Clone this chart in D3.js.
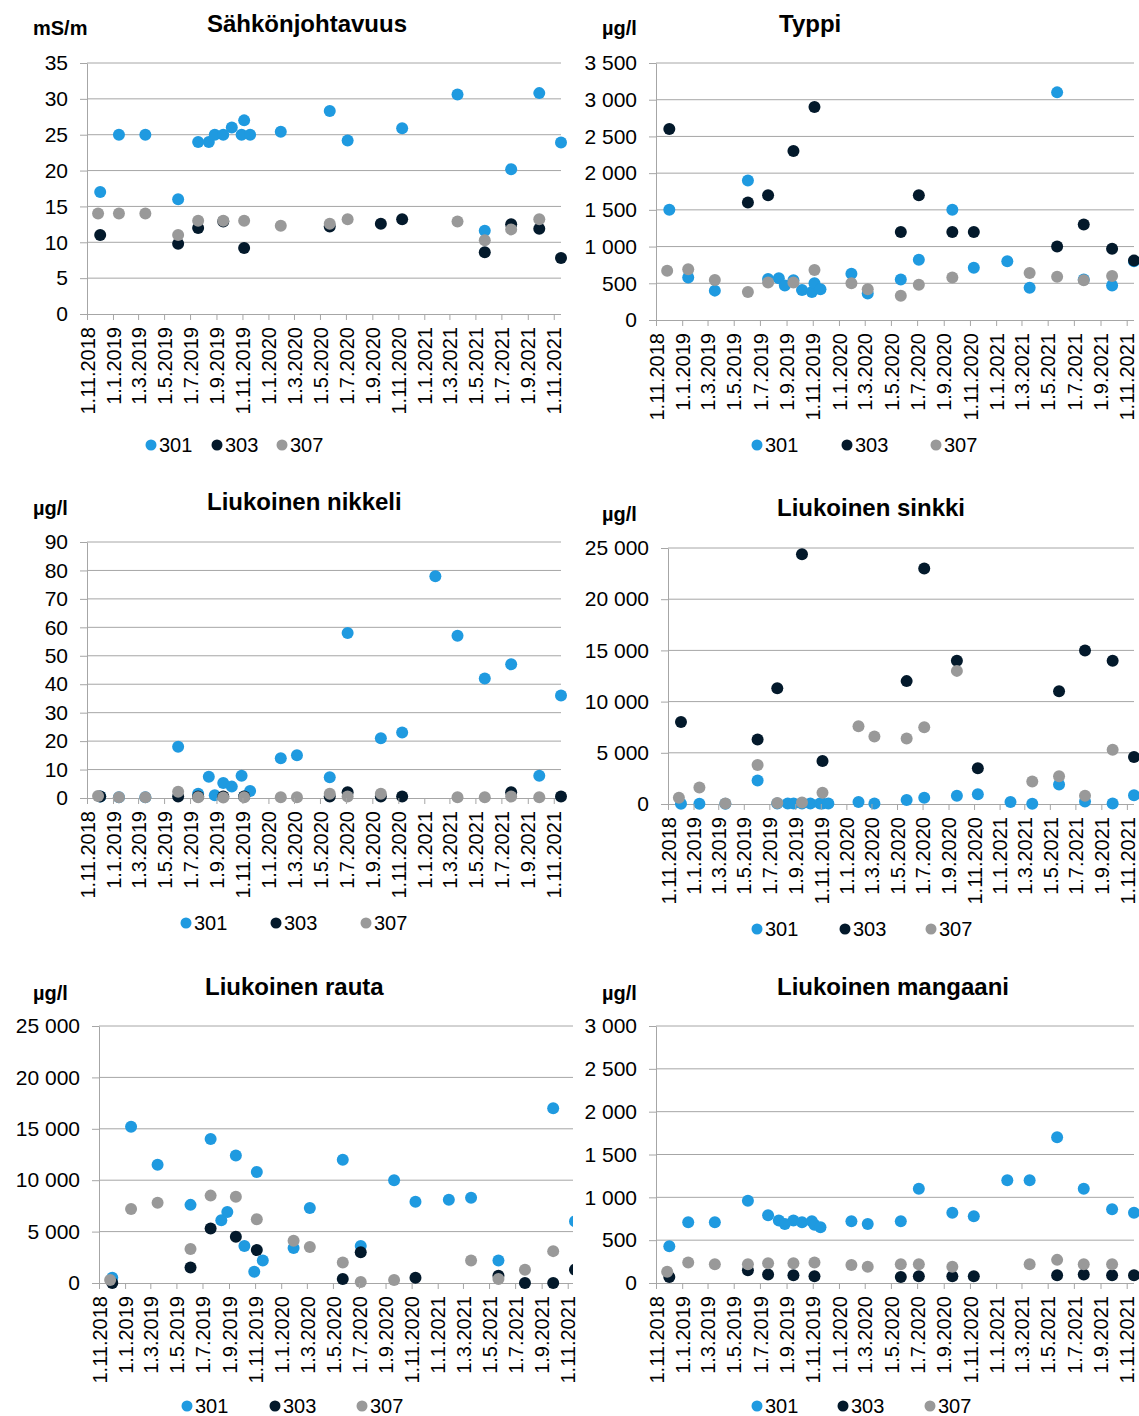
<!DOCTYPE html>
<html lang="fi">
<head>
<meta charset="UTF-8">
<title>Vedenlaatu 301, 303, 307</title>
<style>
    body { margin: 0; background: #fff; }
    svg { display: block; font-family: Arial, "Liberation Sans", sans-serif; }
    .grid line { stroke: #a6a6a6; stroke-width: 1; }
    .axis path, .axis line { stroke: #a6a6a6; }
    .axis text { fill: #000; }
</style>
</head>
<body>
<svg id="chart"></svg>
<script src="https://d3js.org/d3.v7.min.js"></script>
<script>
// sampling dates (union of all stations)
const sampleDates = ["2018-11-27", "2018-12-02", "2019-01-15", "2019-03-18", "2019-06-03",
    "2019-07-20", "2019-08-14", "2019-08-28", "2019-09-17", "2019-10-07", "2019-10-30",
    "2019-11-05", "2019-11-19", "2020-01-30", "2020-03-08", "2020-05-24", "2020-07-05",
    "2020-09-21", "2020-11-10", "2021-01-27", "2021-03-20", "2021-05-23", "2021-07-24",
    "2021-09-28", "2021-11-18"];

// x tick labels, every second month
const tickDates = ["2018-11-01", "2019-01-01", "2019-03-01", "2019-05-01", "2019-07-01",
    "2019-09-01", "2019-11-01", "2020-01-01", "2020-03-01", "2020-05-01", "2020-07-01",
    "2020-09-01", "2020-11-01", "2021-01-01", "2021-03-01", "2021-05-01", "2021-07-01",
    "2021-09-01", "2021-11-01"];

const stations = ["301", "303", "307"];

// Sähkönjohtavuus, mS/m
const cond301 = [null, 17, 25, 25, 16, 24, 24, 25, 25, 26, 25, 27, 25, 25.4, null, 28.3, 24.2, null, 25.9, null, 30.6, 11.6, 20.2, 30.8, 23.9];
const cond303 = [null, 11, null, null, 9.8, 12, null, null, 12.9, null, null, 9.2, null, null, null, 12.2, null, 12.6, 13.2, null, null, 8.6, 12.5, 11.9, 7.8];
const cond307 = [14, null, 14, 14, 11, 13, null, null, 13, null, null, 13, null, 12.3, null, 12.6, 13.2, null, null, null, 12.9, 10.3, 11.8, 13.2, null];

// Typpi, µg/l
const typ301 = [null, 1500, 580, 400, 1900, 560, 570, 470, 540, 410, 380, 500, 420, 630, 360, 550, 820, 1500, 710, 800, 440, 3100, 550, 470, 800];
const typ303 = [null, 2600, null, null, 1600, 1700, null, null, 2300, null, null, 2900, null, null, null, 1200, 1700, 1200, 1200, null, null, 1000, 1300, 970, 810];
const typ307 = [670, null, 690, 545, 380, 510, null, null, 510, null, null, 680, null, 500, 420, 330, 480, 580, null, null, 640, 590, 540, 600, null];

// Liukoinen nikkeli, µg/l
const ni301 = [null, 0.5, 0.3, 0.3, 18, 1.5, 7.5, 1, 5.3, 4, 7.8, 0.5, 2.5, 14, 15, 7.3, 58, 21, 23, 78, 57, 42, 47, 7.8, 36];
const ni303 = [null, 0.5, null, null, 0.5, 0.5, null, null, 0.5, null, null, 0.5, null, null, null, 0.5, 2, 0.5, 0.5, null, null, null, 2, null, 0.5];
const ni307 = [0.7, null, 0.3, 0.3, 2.2, 0.3, null, null, 0.2, null, null, 0.3, null, 0.3, 0.3, 1.5, 0.5, 1.5, null, null, 0.3, 0.3, 0.5, 0.3, null];

// Liukoinen sinkki, µg/l
const zn301 = [null, 20, 20, 20, 2300, 50, 50, 50, 50, 50, 50, 50, 50, 200, 50, 400, 600, 800, 950, 200, 30, 1900, 250, 50, 850];
const zn303 = [null, 8000, null, null, 6300, 11300, null, null, 24400, null, null, 4200, null, null, null, 12000, 23000, 14000, 3500, null, null, 11000, 15000, 14000, 4600];
const zn307 = [600, null, 1600, 50, 3800, 100, null, null, 150, null, null, 1100, null, 7600, 6600, 6400, 7500, 13000, null, null, 2200, 2700, 800, 5300, null];

// Liukoinen rauta, µg/l
const fe301 = [null, 500, 15200, 11500, 7600, 14000, 6100, 6900, 12400, 3600, 1100, 10800, 2200, 3400, 7300, 12000, 3600, 10000, 7900, 8100, 8300, 2200, null, 17000, 6000];
const fe303 = [null, 0, null, null, 1500, 5300, null, null, 4500, null, null, 3200, null, null, null, 400, 3000, null, 500, null, null, 700, 0, 0, 1300];
const fe307 = [300, null, 7200, 7800, 3300, 8500, null, null, 8400, null, null, 6200, null, 4100, 3500, 2000, 100, 300, null, null, 2200, 400, 1300, 3100, null];

// Liukoinen mangaani, µg/l
const mn301 = [null, 430, 710, 710, 960, 790, 730, 690, 730, 710, 720, 680, 650, 720, 690, 720, 1100, 820, 780, 1200, 1200, 1700, 1100, 860, 820];
const mn303 = [null, 70, null, null, 150, 100, null, null, 90, null, null, 80, null, null, null, 70, 80, 80, 80, null, null, 90, 100, 90, 90];
const mn307 = [130, null, 240, 220, 220, 230, null, null, 230, null, null, 240, null, 210, 190, 220, 220, 190, null, null, 220, 270, 220, 220, null];

const colors = ["#1f9ae0", "#03192b", "#999999"];

const parse = d3.timeParse("%Y-%m-%d");
const fmtDate = d3.timeFormat("%-d.%-m.%Y");
const fiNum = d3.formatLocale({ decimal: ",", thousands: "\u00a0", grouping: [3], currency: ["", " €"] }).format(",");

const dates = sampleDates.map(parse);
const ticks = tickDates.map(parse);
const xDomain = [ticks[0], dates[dates.length - 1]];

// panel layout: plot box [left, top, right, bottom]
const panels = [
    { title: "Sähkönjohtavuus", unit: "mS/m", yMax: 35, yStep: 5, series: [cond301, cond303, cond307],
      box: [87, 63, 561, 314], titleX: 207, titleY: 32, unitX: 33, unitY: 35, legY: 445, legX: [151, 217, 282] },
    { title: "Typpi", unit: "µg/l", yMax: 3500, yStep: 500, series: [typ301, typ303, typ307],
      box: [656, 63, 1134, 320], titleX: 779, titleY: 32, unitX: 602, unitY: 35, legY: 445, legX: [757, 847, 936] },
    { title: "Liukoinen nikkeli", unit: "µg/l", yMax: 90, yStep: 10, series: [ni301, ni303, ni307],
      box: [87, 542, 561, 798], titleX: 207, titleY: 510, unitX: 33, unitY: 515, legY: 923, legX: [186, 276, 366] },
    { title: "Liukoinen sinkki", unit: "µg/l", yMax: 25000, yStep: 5000, series: [zn301, zn303, zn307],
      box: [668, 548, 1134, 804], titleX: 777, titleY: 516, unitX: 602, unitY: 521, legY: 929, legX: [757, 845, 931] },
    { title: "Liukoinen rauta", unit: "µg/l", yMax: 25000, yStep: 5000, series: [fe301, fe303, fe307],
      box: [99, 1026, 575, 1283], titleX: 205, titleY: 995, unitX: 33, unitY: 1000, legY: 1406, legX: [187, 275, 362], clipRight: 573 },
    { title: "Liukoinen mangaani", unit: "µg/l", yMax: 3000, yStep: 500, series: [mn301, mn303, mn307],
      box: [656, 1026, 1134, 1283], titleX: 777, titleY: 995, unitX: 602, unitY: 1000, legY: 1406, legX: [757, 843, 930] }
];

const svg = d3.select("#chart").attr("width", 1139).attr("height", 1416);
const defs = svg.append("defs");

panels.forEach(function (p, pi) {
    const [x0, y0, x1, y1] = p.box;
    const g = svg.append("g");
    // marks and gridlines go here, clipped where the next panel overlaps
    const plot = g.append("g");

    if (p.clipRight) {
        defs.append("clipPath").attr("id", "clip" + pi)
            .append("rect").attr("x", 0).attr("y", y0 - 20).attr("width", p.clipRight).attr("height", y1 - y0 + 30);
        plot.attr("clip-path", "url(#clip" + pi + ")");
    }

    const x = d3.scaleTime().domain(xDomain).range([x0, x1]);
    const y = d3.scaleLinear().domain([0, p.yMax]).range([y1, y0]);
    const yTicks = d3.range(0, p.yMax + p.yStep / 2, p.yStep);

    // gridlines
    plot.append("g").attr("class", "grid")
        .selectAll("line").data(yTicks.slice(1)).enter().append("line")
        .attr("x1", x0).attr("x2", x1)
        .attr("y1", d => y(d)).attr("y2", d => y(d));
    plot.append("line").attr("class", "grid")
        .attr("x1", x0).attr("x2", Math.min(x1, p.clipRight || x1))
        .attr("y1", y1 + 0.5).attr("y2", y1 + 0.5).attr("stroke", "#a6a6a6");

    // y axis
    const ya = g.append("g").attr("class", "axis")
        .attr("transform", "translate(" + x0 + ",0)")
        .call(d3.axisLeft(y).tickValues(yTicks).tickFormat(fiNum).tickSize(7).tickSizeOuter(0).tickPadding(12));
    ya.selectAll("text").style("font-size", "21px");

    // x axis
    const xa = g.append("g").attr("class", "axis")
        .attr("transform", "translate(0," + y1 + ")")
        .call(d3.axisBottom(x).tickValues(ticks).tickFormat(fmtDate).tickSize(6).tickSizeOuter(0));
    xa.select(".domain").remove();
    xa.selectAll("text")
        .style("font-size", "20px")
        .attr("transform", "rotate(-90)")
        .attr("text-anchor", "end")
        .attr("x", -13).attr("y", 0).attr("dy", "0.36em");

    // points, 307 ends on top
    p.series.forEach(function (vals, si) {
        const pts = vals.map((v, i) => ({ d: dates[i], v: v })).filter(o => o.v !== null);
        plot.append("g").selectAll("circle").data(pts).enter().append("circle")
            .attr("cx", o => x(o.d))
            .attr("cy", o => y(o.v))
            .attr("r", 6)
            .attr("fill", colors[si]);
    });

    // title and unit
    svg.append("text").attr("x", p.titleX).attr("y", p.titleY)
        .style("font-size", "24px").style("font-weight", "bold").text(p.title);
    svg.append("text").attr("x", p.unitX).attr("y", p.unitY)
        .style("font-size", "20px").style("font-weight", "bold").text(p.unit);

    // legend
    const leg = svg.append("g");
    stations.forEach(function (s, si) {
        leg.append("circle").attr("cx", p.legX[si]).attr("cy", p.legY).attr("r", 5.5).attr("fill", colors[si]);
        leg.append("text").attr("x", p.legX[si] + 8).attr("y", p.legY + 7)
            .style("font-size", "20px").text(s);
    });
});
</script>
</body>
</html>
